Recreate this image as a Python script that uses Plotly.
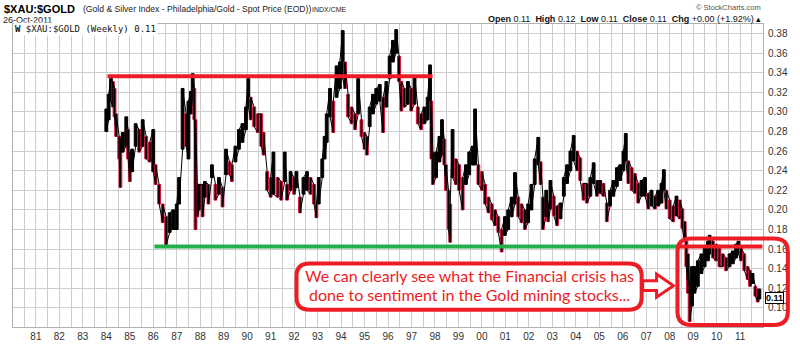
import plotly.graph_objects as go

# ---------------- data ----------------
years = [1984.00,1984.10,1984.20,1984.28,1984.35,1984.42,1984.55,1984.60,1984.70,1984.85,1984.93,
 1985.00,1985.10,1985.25,1985.40,1985.55,1985.70,1985.85,1986.00,1986.10,1986.25,1986.40,1986.55,
 1986.70,1986.85,1987.00,1987.10,1987.25,1987.40,1987.50,1987.60,1987.68,1987.75,1987.80,1987.88,
 1987.95,1988.10,1988.20,1988.35,1988.50,1988.65,1988.80,1988.95,1989.10,1989.25,1989.35,1989.50,
 1989.65,1989.80,1989.95,1990.05,1990.15,1990.30,1990.45,1990.60,1990.70,1990.85,1991.00,1991.12,
 1991.30,1991.45,1991.60,1991.70,1991.85,1992.00,1992.10,1992.25,1992.40,1992.55,1992.70,1992.85,
 1992.95,1993.05,1993.20,1993.30,1993.39,1993.53,1993.67,1993.81,1993.95,1994.07,1994.17,1994.30,
 1994.45,1994.60,1994.73,1994.87,1995.00,1995.10,1995.22,1995.36,1995.50,1995.65,1995.79,1995.93,
 1996.07,1996.21,1996.35,1996.47,1996.57,1996.70,1996.85,1996.99,1997.13,1997.27,1997.41,1997.55,
 1997.69,1997.79,1997.85,1997.91,1998.05,1998.19,1998.30,1998.40,1998.47,1998.58,1998.65,1998.75,
 1998.89,1999.03,1999.18,1999.32,1999.46,1999.60,1999.71,1999.85,2000.00,2000.14,2000.28,2000.42,
 2000.56,2000.70,2000.84,2000.98,2001.12,2001.27,2001.41,2001.55,2001.69,2001.83,2001.97,2002.11,
 2002.25,2002.40,2002.50,2002.60,2002.74,2002.82,2002.92,2003.06,2003.20,2003.35,2003.49,2003.63,
 2003.77,2003.91,2004.05,2004.19,2004.33,2004.47,2004.62,2004.76,2004.90,2005.04,2005.18,2005.32,
 2005.46,2005.60,2005.75,2005.89,2006.03,2006.13,2006.24,2006.38,2006.52,2006.66,2006.80,2006.95,
 2007.09,2007.23,2007.37,2007.51,2007.65,2007.75,2007.86,2008.00,2008.15,2008.29,2008.43,2008.54,
 2008.64,2008.71,2008.78,2008.85,2008.95,2009.06,2009.20,2009.35,2009.49,2009.63,2009.70,2009.84,
 2009.98,2010.12,2010.26,2010.40,2010.55,2010.69,2010.83,2010.93,2011.04,2011.18,2011.32,2011.42,
 2011.53,2011.65,2011.75,2011.82]

highs = [0.303,0.318,0.334,0.331,0.324,0.298,0.275,0.272,0.279,0.295,0.282,
 0.259,0.262,0.288,0.282,0.292,0.275,0.269,0.282,0.246,0.226,0.206,0.193,
 0.197,0.200,0.206,0.233,0.324,0.298,0.311,0.321,0.339,0.324,0.292,0.226,
 0.226,0.226,0.229,0.226,0.246,0.226,0.233,0.223,0.262,0.249,0.246,0.265,
 0.282,0.288,0.305,0.334,0.315,0.305,0.298,0.298,0.279,0.239,0.233,0.259,
 0.233,0.229,0.259,0.226,0.239,0.233,0.239,0.213,0.233,0.239,0.233,0.226,
 0.206,0.233,0.252,0.275,0.298,0.324,0.311,0.347,0.351,0.383,0.351,0.318,
 0.305,0.298,0.334,0.292,0.279,0.275,0.305,0.318,0.324,0.328,0.315,0.331,
 0.357,0.373,0.384,0.357,0.331,0.324,0.331,0.324,0.337,0.305,0.298,0.305,
 0.315,0.348,0.311,0.259,0.259,0.275,0.292,0.272,0.246,0.220,0.206,0.282,
 0.252,0.246,0.233,0.246,0.259,0.265,0.303,0.246,0.239,0.226,0.213,0.206,
 0.200,0.193,0.180,0.193,0.200,0.213,0.238,0.213,0.206,0.200,0.206,0.226,
 0.252,0.274,0.249,0.213,0.220,0.207,0.230,0.214,0.204,0.207,0.233,0.246,
 0.260,0.276,0.260,0.253,0.227,0.227,0.233,0.248,0.230,0.230,0.227,0.207,
 0.220,0.230,0.243,0.246,0.260,0.278,0.250,0.243,0.237,0.227,0.230,0.233,
 0.217,0.220,0.214,0.220,0.227,0.241,0.220,0.210,0.204,0.214,0.210,0.201,
 0.188,0.168,0.155,0.122,0.142,0.142,0.148,0.155,0.161,0.168,0.174,0.168,
 0.165,0.161,0.155,0.151,0.155,0.158,0.165,0.168,0.161,0.155,0.142,0.138,
 0.135,0.122,0.119,0.119]

lows = [0.280,0.292,0.311,0.305,0.295,0.275,0.252,0.223,0.259,0.265,0.252,
 0.229,0.239,0.265,0.259,0.265,0.252,0.249,0.239,0.226,0.206,0.187,0.164,
 0.177,0.180,0.180,0.206,0.262,0.265,0.252,0.298,0.315,0.292,0.180,0.193,
 0.200,0.193,0.213,0.206,0.233,0.210,0.216,0.203,0.236,0.236,0.229,0.249,
 0.262,0.269,0.282,0.305,0.292,0.285,0.279,0.265,0.256,0.220,0.213,0.216,
 0.213,0.210,0.229,0.210,0.220,0.216,0.223,0.197,0.216,0.220,0.216,0.206,
 0.192,0.206,0.233,0.252,0.269,0.295,0.279,0.315,0.324,0.334,0.324,0.295,
 0.288,0.282,0.298,0.275,0.262,0.256,0.285,0.298,0.308,0.311,0.279,0.305,
 0.334,0.351,0.360,0.331,0.301,0.305,0.308,0.301,0.308,0.288,0.282,0.288,
 0.292,0.311,0.252,0.226,0.233,0.249,0.256,0.246,0.220,0.180,0.167,0.233,
 0.226,0.220,0.200,0.226,0.236,0.246,0.246,0.226,0.220,0.206,0.197,0.190,
 0.184,0.177,0.157,0.174,0.180,0.193,0.206,0.193,0.187,0.180,0.187,0.200,
 0.226,0.246,0.226,0.180,0.193,0.188,0.201,0.194,0.184,0.191,0.214,0.227,
 0.240,0.250,0.240,0.230,0.210,0.207,0.214,0.227,0.214,0.217,0.214,0.188,
 0.204,0.214,0.224,0.230,0.240,0.250,0.227,0.220,0.217,0.207,0.214,0.214,
 0.201,0.204,0.201,0.204,0.207,0.220,0.201,0.191,0.188,0.194,0.191,0.181,
 0.168,0.142,0.115,0.086,0.102,0.115,0.122,0.135,0.142,0.148,0.155,0.151,
 0.148,0.142,0.142,0.138,0.142,0.145,0.151,0.155,0.148,0.138,0.129,0.122,
 0.125,0.112,0.106,0.109]

x_tick_years = list(range(1981, 2012))
x_tick_labels = ["%02d" % (y % 100) for y in x_tick_years]
y_tick_vals = [0.10,0.12,0.14,0.16,0.18,0.20,0.22,0.24,0.26,0.28,0.30,0.32,0.34,0.36,0.38]

resistance_level = 0.3365
resistance_span = (1984.05, 1997.9)
support_level = 0.1626
support_span = (1986.05, 2008.4)
recent_span = (2008.4, 2011.95)
last_close = 0.11

# ---------------- styling helpers ----------------
RED = "#ee1c25"
BAR_RED = "#e3123c"
GREEN = "#22b14c"
GRID = "#cdcdcd"

L, R, T, B = 13, 33, 24, 15
W, H = 800, 354
PW, PH = W - L - R, H - T - B

def px(x):
    return (x - L) / PW

def py(y):
    return (H - B - y) / PH

line_colors = []
prev_mid = None
for h, l in zip(highs, lows):
    mid = (h + l) / 2
    line_colors.append(BAR_RED if (prev_mid is not None and mid < prev_mid) else "#000000")
    prev_mid = mid

fig = go.Figure()
fig.add_trace(go.Bar(
    x=years, base=lows, y=[h - l for h, l in zip(highs, lows)],
    width=0.12, marker=dict(color="#000000", line=dict(width=1, color=line_colors)),
    showlegend=False, hoverinfo="skip"))

# hairy weekly-bar texture: vertical high-low strokes joined in sequence
zx, zy = [], []
for i, (x, h, l) in enumerate(zip(years, highs, lows)):
    zx += [x, x]
    zy += ([h, l] if i % 2 == 0 else [l, h])
fig.add_trace(go.Scatter(x=zx, y=zy, mode="lines", line=dict(color="#000000", width=1),
                         showlegend=False, hoverinfo="skip"))

fig.update_layout(
    width=W, height=H,
    margin=dict(l=L, r=R, t=T, b=B, pad=0),
    paper_bgcolor="white", plot_bgcolor="white",
    font=dict(family="Liberation Sans, Arial", size=10, color="#333"),
    showlegend=False,
    xaxis=dict(
        range=[1980.025, 2011.975], tickmode="array",
        tickvals=x_tick_years, ticktext=x_tick_labels,
        showgrid=True, gridcolor=GRID, gridwidth=1,
        minor=dict(tickvals=[y + 0.5 for y in range(1980, 2012)], showgrid=True,
                   gridcolor=GRID, gridwidth=1, ticks=""),
        ticks="", showline=True, linecolor="#b0b0b0", mirror=True,
        zeroline=False, tickfont=dict(size=10, color="#333")),
    yaxis=dict(
        range=[0.0804, 0.3898], side="right", tickmode="array",
        tickvals=y_tick_vals, ticktext=["%.2f" % v for v in y_tick_vals],
        showgrid=True, gridcolor=GRID, gridwidth=1,
        ticks="outside", ticklen=2, tickcolor="white",
        showline=True, linecolor="#b0b0b0", mirror=True, zeroline=False,
        tickfont=dict(size=10, color="#333")),
)

# trend lines
fig.add_shape(type="line", xref="x", yref="y", x0=resistance_span[0], x1=resistance_span[1],
              y0=resistance_level, y1=resistance_level, line=dict(color=RED, width=4))
fig.add_shape(type="line", xref="x", yref="y", x0=support_span[0], x1=support_span[1],
              y0=support_level, y1=support_level, line=dict(color=GREEN, width=4))
fig.add_shape(type="line", xref="x", yref="y", x0=recent_span[0], x1=recent_span[1],
              y0=support_level, y1=support_level, line=dict(color=RED, width=4))

def rrect(x0, y0, x1, y1, r):
    return (f"M {px(x0+r)},{py(y0)} L {px(x1-r)},{py(y0)} Q {px(x1)},{py(y0)} {px(x1)},{py(y0+r)} "
            f"L {px(x1)},{py(y1-r)} Q {px(x1)},{py(y1)} {px(x1-r)},{py(y1)} "
            f"L {px(x0+r)},{py(y1)} Q {px(x0)},{py(y1)} {px(x0)},{py(y1-r)} "
            f"L {px(x0)},{py(y0+r)} Q {px(x0)},{py(y0)} {px(x0+r)},{py(y0)} Z")

# crisis frame
fig.add_shape(type="path", xref="paper", yref="paper", path=rrect(681, 247, 792, 337, 14),
              line=dict(color=RED, width=4))
# callout box
fig.add_shape(type="path", xref="paper", yref="paper", path=rrect(298, 273, 645, 321, 13),
              fillcolor="white", line=dict(color=RED, width=4))
# block arrow
arrow = [(646, 291), (660, 291), (660, 284), (677, 296), (660, 308), (660, 301), (646, 301)]
apath = "M " + " L ".join(f"{px(a)},{py(b)}" for a, b in arrow) + " Z"
fig.add_shape(type="path", xref="paper", yref="paper", path=apath,
              fillcolor="white", line=dict(color=RED, width=3))

def ann(x, y, text, size=10, color="#000", family="Liberation Sans, Arial", xanchor="left", **kw):
    fig.add_annotation(xref="paper", yref="paper", x=px(x), y=py(y), text=text, showarrow=False,
                       xanchor=xanchor, yanchor="middle",
                       font=dict(size=size, color=color, family=family), **kw)

CAL = "Lato, Open Sans, sans-serif"
ann(472, 285, "We can clearly see what the Financial crisis has", size=16, color=RED,
    family=CAL, xanchor="center")
ann(472, 305, "done to sentiment in the Gold mining stocks...", size=16, color=RED,
    family=CAL, xanchor="center")

# header
ann(2, 8, "<b>$XAU:$GOLD</b>", size=11)
ann(81, 8.5, "(Gold &amp; Silver Index - Philadelphia/Gold - Spot Price (EOD))", size=8.6, color="#222")
ann(312, 8.5, "INDX/CME", size=7, color="#222")
ann(1, 19.5, "26-Oct-2011", size=9, color="#222")
ann(767, 7, "© StockCharts.com", size=7.5, color="#555", xanchor="right")
ann(767, 19, "<b>Open</b> 0.11  <b>High</b> 0.12  <b>Low</b> 0.11  <b>Close</b> 0.11  "
    "<b>Chg</b> +0.00 (+1.92%) ▴", size=9, color="#111", xanchor="right")

# in-plot legend
ann(13.5, 29.5, "<b>W</b> $XAU:$GOLD (Weekly) 0.11", size=9, color="#111",
    family="DejaVu Sans Mono, Liberation Mono, monospace", bgcolor="white", borderpad=1)

# last price marker
fig.add_annotation(xref="paper", yref="y", x=px(769), y=last_close, text="<b>0.11</b>",
                   showarrow=False, xanchor="left", yanchor="middle",
                   font=dict(size=9, color="#000", family="Liberation Sans, Arial"),
                   bgcolor="white", bordercolor="#000", borderwidth=1, borderpad=0)

fig.write_html("out.html")
